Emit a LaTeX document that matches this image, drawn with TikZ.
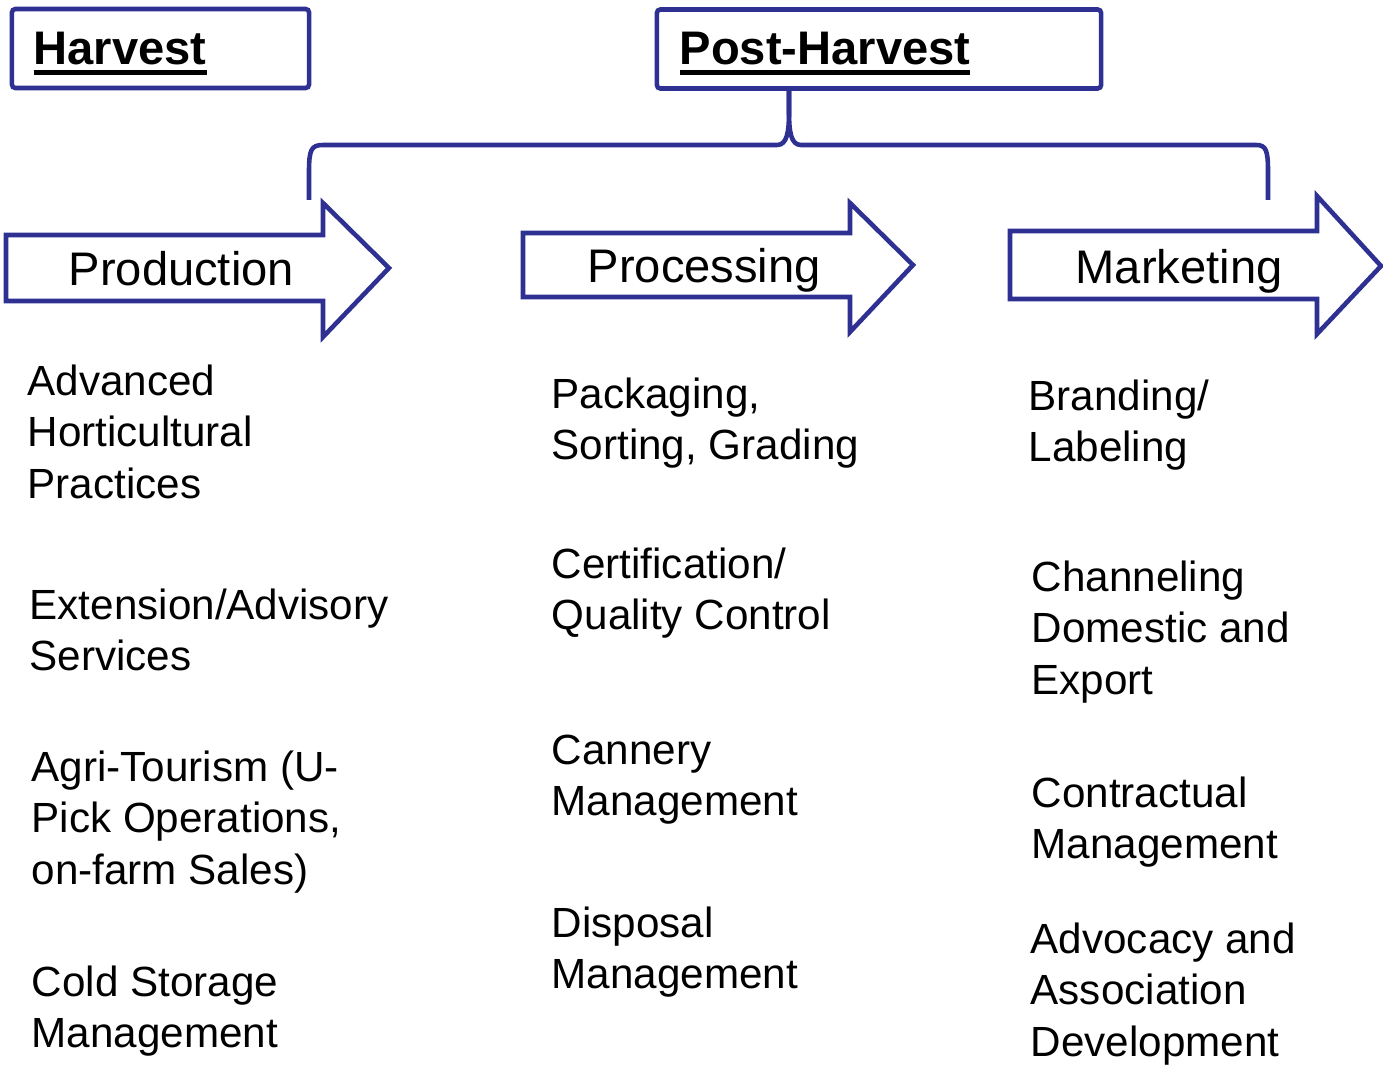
\documentclass[tikz,border=0pt]{standalone}
\usepackage{fontspec}
\setmainfont{Liberation Sans}
\usetikzlibrary{positioning}
\definecolor{navy}{HTML}{2E3192}
\newsavebox{\hdsave}
\newcommand{\hdline}[1]{\sbox{\hdsave}{#1}\rlap{\rule[-0.22em]{\wd\hdsave}{0.12em}}\usebox{\hdsave}}
\newcommand{\linestack}[1]{\begin{tabular}[t]{@{}l@{}}#1\end{tabular}}

\begin{document}
\begin{tikzpicture}[x=0.01cm, y=-0.01cm,
    hdbox/.style={draw=navy, line width=1.3pt, rounded corners=1pt, minimum height=0.79cm, inner sep=0},
    hdtext/.style={font=\fontsize{13.4}{16}\selectfont\bfseries, inner sep=0, anchor=base west},
    flow/.style={draw=navy, line width=1.3pt, line join=miter},
    flowtext/.style={font=\fontsize{13.4}{16}\selectfont, inner sep=0, anchor=base west},
    item/.style={font=\fontsize{12}{14.65}\selectfont, inner sep=0, anchor=base west},
    brace/.style={draw=navy, line width=1.3pt}]
    \useasboundingbox (0,0) rectangle (1383,1067);

    % Headers
    \node[hdbox, minimum width=2.97cm] (harvest) at (160.5,48.5) {};
    \node[hdtext] (harvesttxt) at (33,65) {\hdline{Harvest}};
    \node[hdbox, minimum width=4.44cm] (postharvest) at (879,49) {};
    \node[hdtext] (postharvesttxt) at (679,65) {\hdline{Post-Harvest}};

    % Brace under Post-Harvest
    \coordinate (cusp) at (postharvest.south -| 789,0);
    \draw[brace] (309,200) -- (309,172) .. controls (309,150) and (311,145) .. (323,145)
        -- (777,145) .. controls (787,145) and (789,132) .. (789,112) -- (cusp);
    \draw[brace] (cusp) -- (789,112) .. controls (789,132) and (791,145) .. (801,145)
        -- (1256,145) .. controls (1266,145) and (1268,150) .. (1268,172) -- (1268,200);

    % Flow arrows
    \draw[flow] (6,235) -- (323,235) -- (323,203) -- (389,268) -- (323,337)
        -- (323,301) -- (6,301) -- cycle;
    \node[flowtext] (production) at (68,285) {Production};

    \draw[flow] (523,233) -- (850,233) -- (850,203) -- (913,265) -- (850,332)
        -- (850,297) -- (523,297) -- cycle;
    \node[flowtext] (processing) at (587,283) {Processing};

    \draw[flow] (1010,231) -- (1317,231) -- (1317,196) -- (1381,266) -- (1317,334)
        -- (1317,299) -- (1010,299) -- cycle;
    \node[flowtext] (marketing) at (1075,284) {Marketing};

    % Production items
    \node[item] (prod1) at (27,395) {\linestack{Advanced\\Horticultural\\Practices}};
    \node[item] (prod2) at (29,619) {\linestack{Extension/Advisory\\Services}};
    \node[item] (prod3) at (31,781) {\linestack{Agri-Tourism (U-\\Pick Operations,\\on-farm Sales)}};
    \node[item] (prod4) at (31,996) {\linestack{Cold Storage\\Management}};

    % Processing items
    \node[item] (proc1) at (551,408) {\linestack{Packaging,\\Sorting, Grading}};
    \node[item] (proc2) at (551,578) {\linestack{Certification/\\Quality Control}};
    \node[item] (proc3) at (551,764) {\linestack{Cannery\\Management}};
    \node[item] (proc4) at (551,937) {\linestack{Disposal\\Management}};

    % Marketing items
    \node[item] (mkt1) at (1028,410) {\linestack{Branding/\\Labeling}};
    \node[item] (mkt2) at (1031,591) {\linestack{Channeling\\Domestic and\\Export}};
    \node[item] (mkt3) at (1031,807) {\linestack{Contractual\\Management}};
    \node[item] (mkt4) at (1030,953) {\linestack{Advocacy and\\Association\\Development}};
\end{tikzpicture}
\end{document}
